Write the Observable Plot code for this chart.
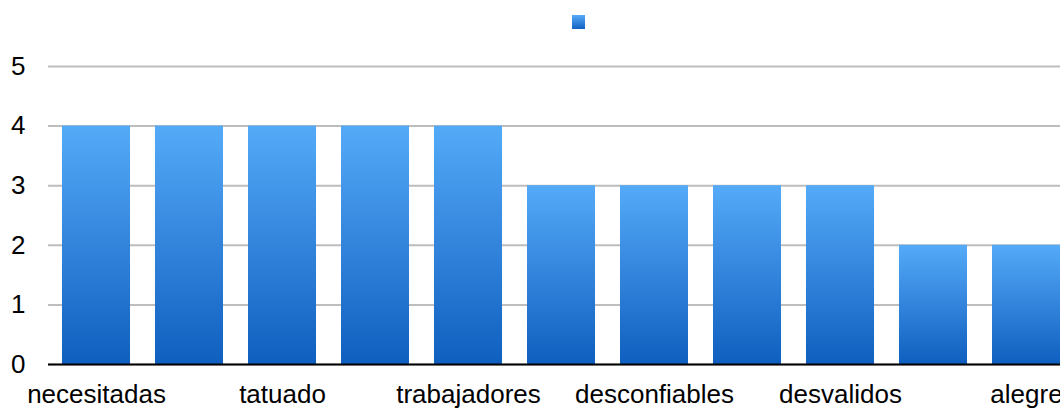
<!DOCTYPE html>
<html>
<head>
<meta charset="utf-8">
<script src="https://cdn.jsdelivr.net/npm/d3@7"></script>
<script src="https://cdn.jsdelivr.net/npm/@observablehq/plot@0.6"></script>
<style>
  html, body { margin: 0; padding: 0; background: #fff; overflow: hidden; width: 1060px; height: 409px; }
  #legend { position: relative; height: 40px; }
  #legend .sw { position: absolute; left: 572px; top: 15px; width: 13px; height: 14px;
    background: linear-gradient(to bottom, #55aaf8, #1262c2); }
  #chart { width: 1060px; overflow: hidden; }
  #chart svg { display: block; max-width: none !important; }
  #chart svg text { font-family: 'Liberation Sans', Arial, sans-serif; font-size: 26px; fill: #000; }
</style>
</head>
<body>
<div id="legend"><div class="sw"></div></div>
<div id="chart"></div>
<script>
// Categories (only every other label is shown in the reference)
const categories = ["necesitadas", "c2", "tatuado", "c4", "trabajadores", "c6", "desconfiables", "c8", "desvalidos", "c10", "alegre"];
const values = [4, 4, 4, 4, 4, 3, 3, 3, 3, 2, 2];
const shownLabels = ["necesitadas", "tatuado", "trabajadores", "desconfiables", "desvalidos", "alegre"];
const yTicks = [0, 1, 2, 3, 4, 5];

const data = categories.map((c, i) => ({category: c, value: values[i]}));

const plot = Plot.plot({
  width: 1073,
  height: 369,
  marginTop: 26,
  marginBottom: 45,
  marginLeft: 48,
  marginRight: 0,
  style: {fontFamily: "'Liberation Sans', Arial, sans-serif", fontSize: "26px", color: "#000", background: "#fff", maxWidth: "none"},
  x: {domain: categories, paddingInner: 0.27, paddingOuter: 0.135, label: null},
  y: {domain: [0, 5], label: null},
  marks: [
    () => {
      const svg = d3.create("svg:defs");
      const g = svg.append("linearGradient").attr("id", "barGrad").attr("x1", 0).attr("y1", 0).attr("x2", 0).attr("y2", 1);
      g.append("stop").attr("offset", "0%").attr("stop-color", "#55aaf8");
      g.append("stop").attr("offset", "100%").attr("stop-color", "#0f5fbf");
      return svg.node();
    },
    Plot.gridY(yTicks, {stroke: "#bdbdbd", strokeOpacity: 1, strokeWidth: 2}),
    Plot.barY(data, {x: "category", y: "value", fill: "url(#barGrad)"}),
    Plot.ruleY([0], {stroke: "#000", strokeWidth: 2}),
    Plot.axisY(yTicks, {tickSize: 0, tickPadding: 23, fontSize: 26, fill: "#000", tickFormat: d3.format("d")}),
    Plot.axisX(shownLabels, {tickSize: 0, tickPadding: 20, fontSize: 26, fill: "#000"})
  ]
});
document.getElementById("chart").appendChild(plot);
</script>
</body>
</html>
